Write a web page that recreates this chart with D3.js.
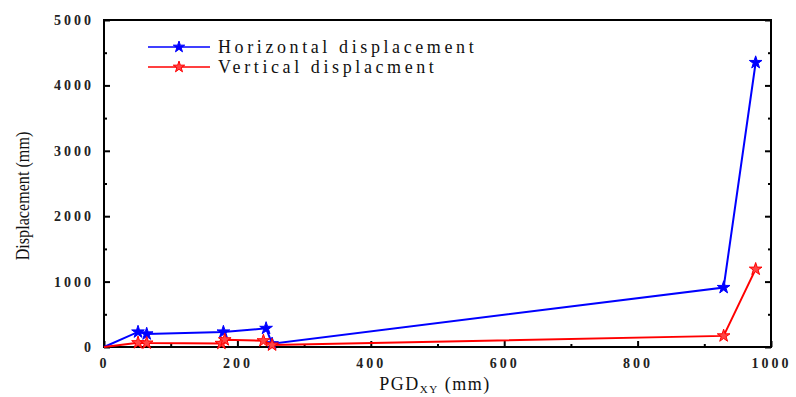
<!DOCTYPE html>
<html>
<head>
<meta charset="utf-8">
<script src="https://cdn.jsdelivr.net/npm/d3@7"></script>
<style>
  body { margin: 0; background: #fff; }
  .tick text { font-family: "Liberation Serif", serif; font-weight: bold; font-size: 14px; letter-spacing: 3px; fill: #222; }
</style>
</head>
<body>
<div id="chart"></div>
<script>
// PGD (mm) for each run
var pgdH = [0, 51, 64, 179, 243, 252, 929, 977];
var horizontal = [0, 230, 200, 230, 285, 50, 910, 4350];
var pgdV = [0, 51, 64, 176, 181, 239, 252, 929, 977];
var vertical = [0, 65, 60, 55, 110, 95, 30, 170, 1190];
var xTicks = [0, 200, 400, 600, 800, 1000];
var yTicks = [0, 1000, 2000, 3000, 4000, 5000];
var seriesNames = ["Horizontal displacement", "Vertical displacment"];

var width = 796, height = 397;
var margin = {top: 20, right: 25, bottom: 50, left: 104};

var svg = d3.select("#chart").append("svg")
    .attr("width", width)
    .attr("height", height);

var x = d3.scaleLinear().domain([0, 1000]).range([margin.left, width - margin.right]);
var y = d3.scaleLinear().domain([0, 5000]).range([height - margin.bottom, margin.top]);

// frame
svg.append("rect")
    .attr("x", x(0)).attr("y", y(5000))
    .attr("width", x(1000) - x(0)).attr("height", y(0) - y(5000))
    .attr("fill", "none").attr("stroke", "#000").attr("stroke-width", 2);

// minor ticks (inside)
var g = svg.append("g");
g.append("g").attr("transform", "translate(0," + y(0) + ")")
    .call(d3.axisTop(x).tickValues(d3.range(100, 1000, 200)).tickSize(3).tickFormat(""));
g.append("g").attr("transform", "translate(" + x(0) + ",0)")
    .call(d3.axisRight(y).tickValues(d3.range(500, 5000, 1000)).tickSize(3).tickFormat(""));
g.append("g").attr("transform", "translate(" + x(1000) + ",0)")
    .call(d3.axisLeft(y).tickValues(d3.range(500, 5000, 1000)).tickSize(3).tickFormat(""));
g.append("g").attr("transform", "translate(" + x(1000) + ",0)")
    .call(d3.axisLeft(y).tickValues(yTicks).tickSize(6).tickFormat(""));

// major axes with labels outside, ticks inside
svg.append("g").attr("transform", "translate(0," + y(0) + ")")
    .call(d3.axisBottom(x).tickValues(xTicks).tickFormat(d3.format("d"))
        .tickSizeInner(-6).tickSizeOuter(0).tickPadding(11));
svg.append("g").attr("transform", "translate(" + x(0) + ",0)")
    .call(d3.axisLeft(y).tickValues(yTicks).tickFormat(d3.format("d"))
        .tickSizeInner(-6).tickSizeOuter(0).tickPadding(10));
svg.selectAll(".domain").remove();
svg.selectAll(".tick line").attr("stroke", "#000").attr("stroke-width", 2);

// lines
var colors = ["#0000ff", "#ff0000"];
var sets = [
  {xs: pgdH, ys: horizontal, color: colors[0], fill: colors[0]},
  {xs: pgdV, ys: vertical, color: colors[1], fill: "#ff4444"}
];
var line = d3.line().x(function(d) { return x(d[0]); }).y(function(d) { return y(d[1]); });
var star = d3.symbol().type(d3.symbolStar).size(50);

sets.forEach(function(s) {
  var pts = s.xs.map(function(v, i) { return [v, s.ys[i]]; });
  svg.append("path").datum(pts)
      .attr("d", line)
      .attr("fill", "none")
      .attr("stroke", s.color)
      .attr("stroke-width", 2);
  svg.append("g").selectAll("path")
      .data(pts.slice(1))
      .enter()
      .append("path")
      .attr("d", star)
      .attr("transform", function(d) { return "translate(" + x(d[0]) + "," + y(d[1]) + ")"; })
      .attr("fill", s.fill)
      .attr("stroke", s.color)
      .attr("stroke-width", 1);
});

// legend
var legend = svg.append("g");
seriesNames.forEach(function(name, i) {
  var ly = 47 + i * 20;
  legend.append("line")
      .attr("x1", 148).attr("x2", 210).attr("y1", ly).attr("y2", ly)
      .attr("stroke", colors[i]).attr("stroke-width", 1.5);
  legend.append("path")
      .attr("d", d3.symbol().type(d3.symbolStar).size(40))
      .attr("transform", "translate(179," + ly + ")")
      .attr("fill", sets[i].fill).attr("stroke", colors[i]);
  legend.append("text")
      .attr("x", 218).attr("y", ly + 6)
      .attr("font-family", "Liberation Serif, serif")
      .attr("font-size", 18)
      .attr("letter-spacing", 3.6)
      .attr("fill", "#111")
      .text(name);
});

// axis titles
var xt = svg.append("text")
    .attr("x", 435).attr("y", 390)
    .attr("text-anchor", "middle")
    .attr("font-family", "Liberation Serif, serif")
    .attr("font-size", 18)
    .attr("letter-spacing", 1.5)
    .attr("fill", "#111");
xt.append("tspan").text("PGD");
xt.append("tspan").attr("dy", 3).attr("font-size", 11).text("XY");
xt.append("tspan").attr("dy", -3).text(" (mm)");

svg.append("text")
    .attr("transform", "translate(29,196) rotate(-90) scale(0.85,1)")
    .attr("text-anchor", "middle")
    .attr("font-family", "Liberation Serif, serif")
    .attr("font-size", 19)
    .attr("fill", "#111")
    .text("Displacement (mm)");
</script>
</body>
</html>
